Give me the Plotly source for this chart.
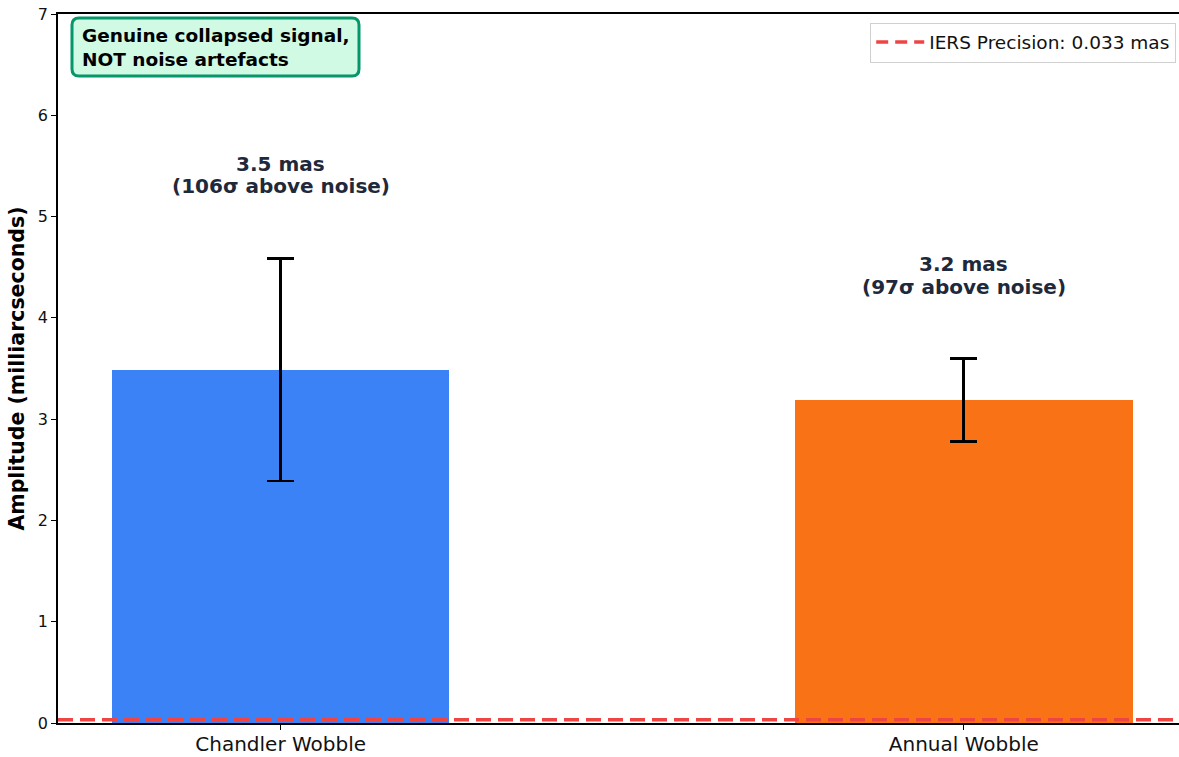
import plotly.graph_objects as go

categories = ["Chandler Wobble", "Annual Wobble"]
amplitudes = [3.49, 3.19]
errors = [1.1, 0.41]
label_top = ["3.5 mas", "3.2 mas"]
label_bottom = ["(106σ above noise)", "(97σ above noise)"]
bar_colors = ["#3b82f6", "#f97316"]
iers_precision = 0.033
y_ticks = [0, 1, 2, 3, 4, 5, 6, 7]

W, H = 1179, 757
L, R, T, B = 58, 0, 14, 34
FONT = "DejaVu Sans"

fig = go.Figure()
fig.add_trace(go.Bar(
    x=list(range(len(categories))), y=amplitudes, width=0.494,
    marker=dict(color=bar_colors, line=dict(width=0)),
    error_y=dict(type="data", array=errors, color="black", thickness=2.8, width=13.5),
    showlegend=False,
))
fig.add_trace(go.Scatter(
    x=[None], y=[None], mode="lines",
    line=dict(color="#ef4444", width=3.5, dash="12px,7px"),
    name="IERS Precision: 0.033 mas",
))
fig.add_hline(y=iers_precision, line=dict(color="#ef4444", width=3.5, dash="15px,7px"), layer="above")

for i, (v, e, t1, t2) in enumerate(zip(amplitudes, errors, label_top, label_bottom)):
    for txt, shift in ((t1, 33.5), (t2, 11)):
        fig.add_annotation(x=i, y=v + e + 0.6, text=f"<b>{txt}</b>", showarrow=False,
                           yanchor="middle", xanchor="center", yshift=shift,
                           font=dict(family=FONT, size=20, color="#1e293b"))

# rounded text box (pixel geometry converted to paper coords)
pw, ph = W - L - R, H - T - B
bx0, bx1, by0, by1, rad = 72, 359, 18, 76, 7
def px(x): return (x - L) / pw
def py(y): return (H - B - y) / ph
path = (f"M {px(bx0+rad)} {py(by0)} L {px(bx1-rad)} {py(by0)} "
        f"Q {px(bx1)} {py(by0)} {px(bx1)} {py(by0+rad)} "
        f"L {px(bx1)} {py(by1-rad)} Q {px(bx1)} {py(by1)} {px(bx1-rad)} {py(by1)} "
        f"L {px(bx0+rad)} {py(by1)} Q {px(bx0)} {py(by1)} {px(bx0)} {py(by1-rad)} "
        f"L {px(bx0)} {py(by0+rad)} Q {px(bx0)} {py(by0)} {px(bx0+rad)} {py(by0)} Z")
fig.add_shape(type="path", path=path, xref="paper", yref="paper",
              fillcolor="#d1fae5", line=dict(color="#059669", width=3), layer="above")
fig.add_annotation(x=px(bx0 + 8), y=py((by0 + by1) / 2), xref="paper", yref="paper",
                   xanchor="left", yanchor="middle", align="left", showarrow=False,
                   text="<b>Genuine collapsed signal,<br>NOT noise artefacts</b>",
                   font=dict(family=FONT, size=18.5, color="black"))

fig.update_layout(
    width=W, height=H, margin=dict(l=L, r=R, t=T, b=B),
    plot_bgcolor="white", paper_bgcolor="white",
    font=dict(family=FONT, color="black"),
    bargap=0,
    legend=dict(x=0.9975, y=0.988, xanchor="right", yanchor="top",
                bgcolor="white", bordercolor="#d0d0d0", borderwidth=1,
                font=dict(family=FONT, size=18.5, color="#111"),
                itemwidth=48),
)
fig.update_xaxes(
    range=[-0.326, 1.315], tickmode="array", tickvals=list(range(len(categories))),
    ticktext=categories, ticks="outside", ticklen=5, tickwidth=1.2, tickcolor="black",
    showline=True, linecolor="black", linewidth=1.6, mirror=True, showgrid=False,
    zeroline=False, ticklabelstandoff=-3, tickfont=dict(family=FONT, size=20, color="#111"),
)
fig.update_yaxes(
    range=[0, 7], tickvals=y_ticks, ticks="outside", ticklen=5, tickwidth=1.2, tickcolor="black",
    showline=True, linecolor="black", linewidth=1.6, showgrid=False, zeroline=False,
    tickfont=dict(family=FONT, size=16, color="#111"),
    title=dict(text="<b>Amplitude (milliarcseconds)</b>", font=dict(family=FONT, size=20.5), standoff=8),
)
fig.write_html("out.html")
